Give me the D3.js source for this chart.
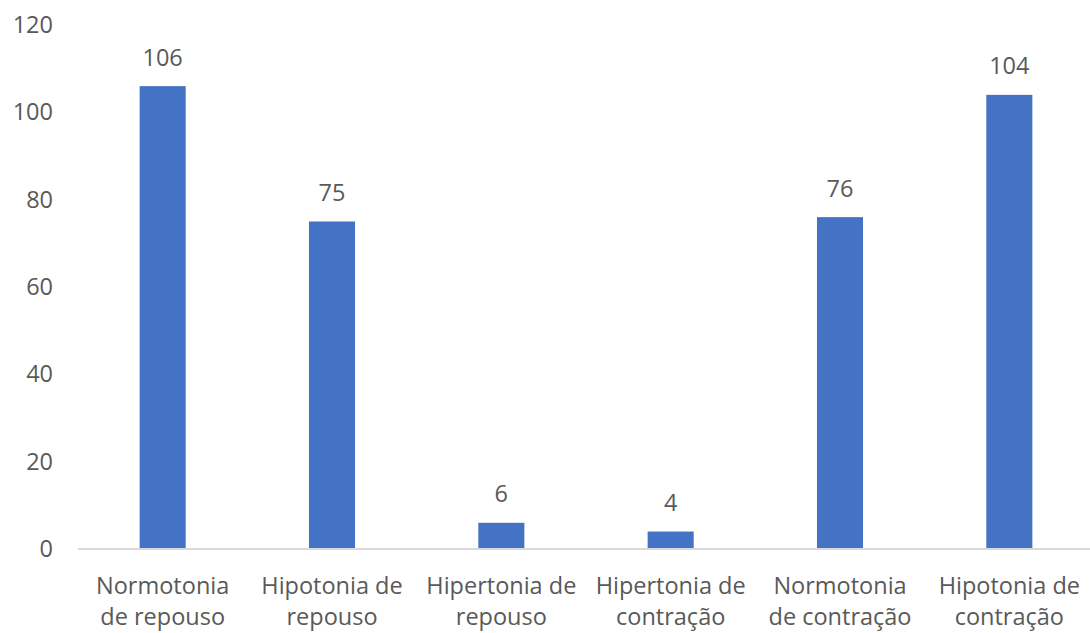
<!DOCTYPE html>
<html>
<head>
<meta charset="utf-8">
<script src="https://cdn.jsdelivr.net/npm/d3@7"></script>
<style>
  html, body { margin: 0; padding: 0; background: #fff; }
  svg { display: block; }
  text { font-family: "Open Sans", "Noto Sans", sans-serif; fill: #595959; }
</style>
</head>
<body>
<svg id="chart" width="1090" height="633"></svg>
<script>
// Categories (two-line labels) and counts
const categories = [
  ["Normotonia", "de repouso"],
  ["Hipotonia de", "repouso"],
  ["Hipertonia de", "repouso"],
  ["Hipertonia de", "contração"],
  ["Normotonia", "de contração"],
  ["Hipotonia de", "contração"]
];
const values = [106, 75, 6, 4, 76, 104];
const yTicks = [0, 20, 40, 60, 80, 100, 120];

const svg = d3.select("#chart");
const plot = { left: 78, right: 1094, top: 25, bottom: 549 };
const fontSize = "23.5px";

const keys = categories.map(c => c.join(" "));
const x = d3.scaleBand()
  .domain(keys)
  .range([plot.left, plot.right])
  .paddingInner(0.728)
  .paddingOuter(0.364);

const y = d3.scaleLinear()
  .domain([0, 120])
  .range([plot.bottom, plot.top]);

// Y axis labels (no line, no ticks)
const yAxis = svg.append("g")
  .attr("transform", `translate(${plot.left - 25},0)`)
  .call(d3.axisLeft(y).tickValues(yTicks).tickSize(0).tickPadding(0));
yAxis.select(".domain").remove();
yAxis.selectAll("text")
  .style("font-size", fontSize)
  .attr("fill", "#595959");

// Bars
svg.append("g").selectAll("rect")
  .data(values)
  .join("rect")
  .attr("x", (d, i) => x(keys[i]))
  .attr("y", d => y(d))
  .attr("width", x.bandwidth())
  .attr("height", d => y(0) - y(d))
  .attr("fill", "#4472C4");

// Baseline
svg.append("line")
  .attr("x1", plot.left).attr("x2", plot.right)
  .attr("y1", y(0)).attr("y2", y(0))
  .attr("stroke", "#D9D9D9")
  .attr("stroke-width", 2);

// Value labels
svg.append("g").selectAll("text")
  .data(values)
  .join("text")
  .attr("x", (d, i) => x(keys[i]) + x.bandwidth() / 2)
  .attr("y", d => y(d) - 20.5)
  .attr("text-anchor", "middle")
  .style("font-size", fontSize)
  .text(d => d);

// Category labels
const cat = svg.append("g").selectAll("text")
  .data(categories)
  .join("text")
  .attr("text-anchor", "middle")
  .style("font-size", fontSize)
  .attr("transform", (d, i) => `translate(${x(keys[i]) + x.bandwidth() / 2},594)`);
cat.selectAll("tspan")
  .data(d => d)
  .join("tspan")
  .attr("x", 0)
  .attr("dy", (d, j) => j === 0 ? 0 : 31)
  .text(d => d);
</script>
</body>
</html>
